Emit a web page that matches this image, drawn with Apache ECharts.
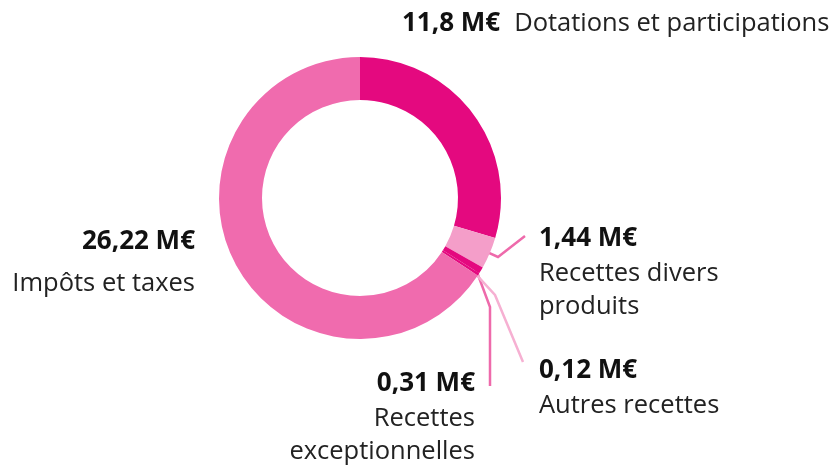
<!DOCTYPE html>
<html>
<head>
<meta charset="utf-8">
<script src="https://cdn.jsdelivr.net/npm/echarts@6/dist/echarts.min.js"></script>
<style>
  html, body { margin: 0; padding: 0; background: #fff; }
  #chart { width: 839px; height: 466px; }
</style>
</head>
<body>
<div id="chart"></div>
<script>
// data
const categories = ['Dotations et participations', 'Recettes divers produits', 'Recettes exceptionnelles', 'Autres recettes', 'Impôts et taxes'];
const values = [11.8, 1.44, 0.31, 0.12, 26.22];
const valueLabels = ['11,8 M€', '1,44 M€', '0,31 M€', '0,12 M€', '26,22 M€'];
const nameLines = [['Dotations et participations'], ['Recettes divers', 'produits'], ['Recettes', 'exceptionnelles'], ['Autres recettes'], ['Impôts et taxes']];

const sliceColors = ['#e4097f', '#f49ec9', '#e4097f', '#e4097f', '#f06bae'];
const lineColors = [null, '#ee6aab', '#ee6aab', '#f6b0d2', null];

const CX = 360, CY = 198, R_IN = 98, R_OUT = 141;
const FONT = 'Open Sans';

// where each label sits and how its leader bends
const labelPlace = [
  { x: 402, y: 6, align: 'left' },
  { x: 539, y: 221, align: 'left' },
  { x: 475, y: 366, align: 'right' },
  { x: 539, y: 353, align: 'left' },
  { x: 195, y: 224, align: 'right' }
];
const leaderBends = [
  null,
  [[498, 257], [525, 236]],
  [[490, 307], [490, 386]],
  [[495, 295], [523, 362]],
  null
];

const total = values.reduce((a, b) => a + b, 0);
function midAngle(i) {
  let before = 0;
  for (let k = 0; k < i; k++) before += values[k];
  return ((before + values[i] / 2) / total) * 2 * Math.PI; // clockwise from top
}

const chart = echarts.init(document.getElementById('chart'));

chart.setOption({
  animation: false,
  series: [{
    type: 'pie',
    center: [CX, CY],
    radius: [R_IN, R_OUT],
    startAngle: 90,
    clockwise: true,
    silent: true,
    emphasis: { disabled: true },
    data: categories.map((name, i) => ({
      name: name,
      value: values[i],
      itemStyle: { color: sliceColors[i] },
      labelLine: { show: !!lineColors[i], lineStyle: { color: lineColors[i] || '#fff', width: 2.5 } }
    })),
    label: {
      show: true,
      position: 'outside',
      overflow: 'none',
      fontFamily: FONT,
      formatter: p => {
        const i = p.dataIndex;
        if (i === 0) return `{v|${valueLabels[i]}}{nd|${nameLines[i][0]}}`;
        const nameStyle = i === 4 ? 'nw' : 'n';
        return [`{v|${valueLabels[i]}}`].concat(nameLines[i].map(l => `{${nameStyle}|${l}}`)).join('\n');
      },
      rich: {
        v: { fontFamily: FONT, fontWeight: 700, fontSize: 26, color: '#111', lineHeight: 36 },
        n: { fontFamily: FONT, fontSize: 25.5, color: '#222', lineHeight: 33 },
        nd: { fontFamily: FONT, fontSize: 25.5, color: '#222', lineHeight: 36, padding: [0, 0, 0, 14] },
        nw: { fontFamily: FONT, fontSize: 25.5, color: '#222', lineHeight: 48 }
      }
    },
    labelLine: { show: true },
    labelLayout: params => {
      const i = params.dataIndex;
      const place = labelPlace[i];
      const out = { x: place.x, y: place.y, align: place.align, verticalAlign: 'top' };
      if (leaderBends[i]) {
        const a = midAngle(i);
        const r = 134;
        const start = [CX + r * Math.sin(a), CY - r * Math.cos(a)];
        out.labelLinePoints = [start].concat(leaderBends[i]);
      }
      return out;
    }
  }]
});
</script>
</body>
</html>
